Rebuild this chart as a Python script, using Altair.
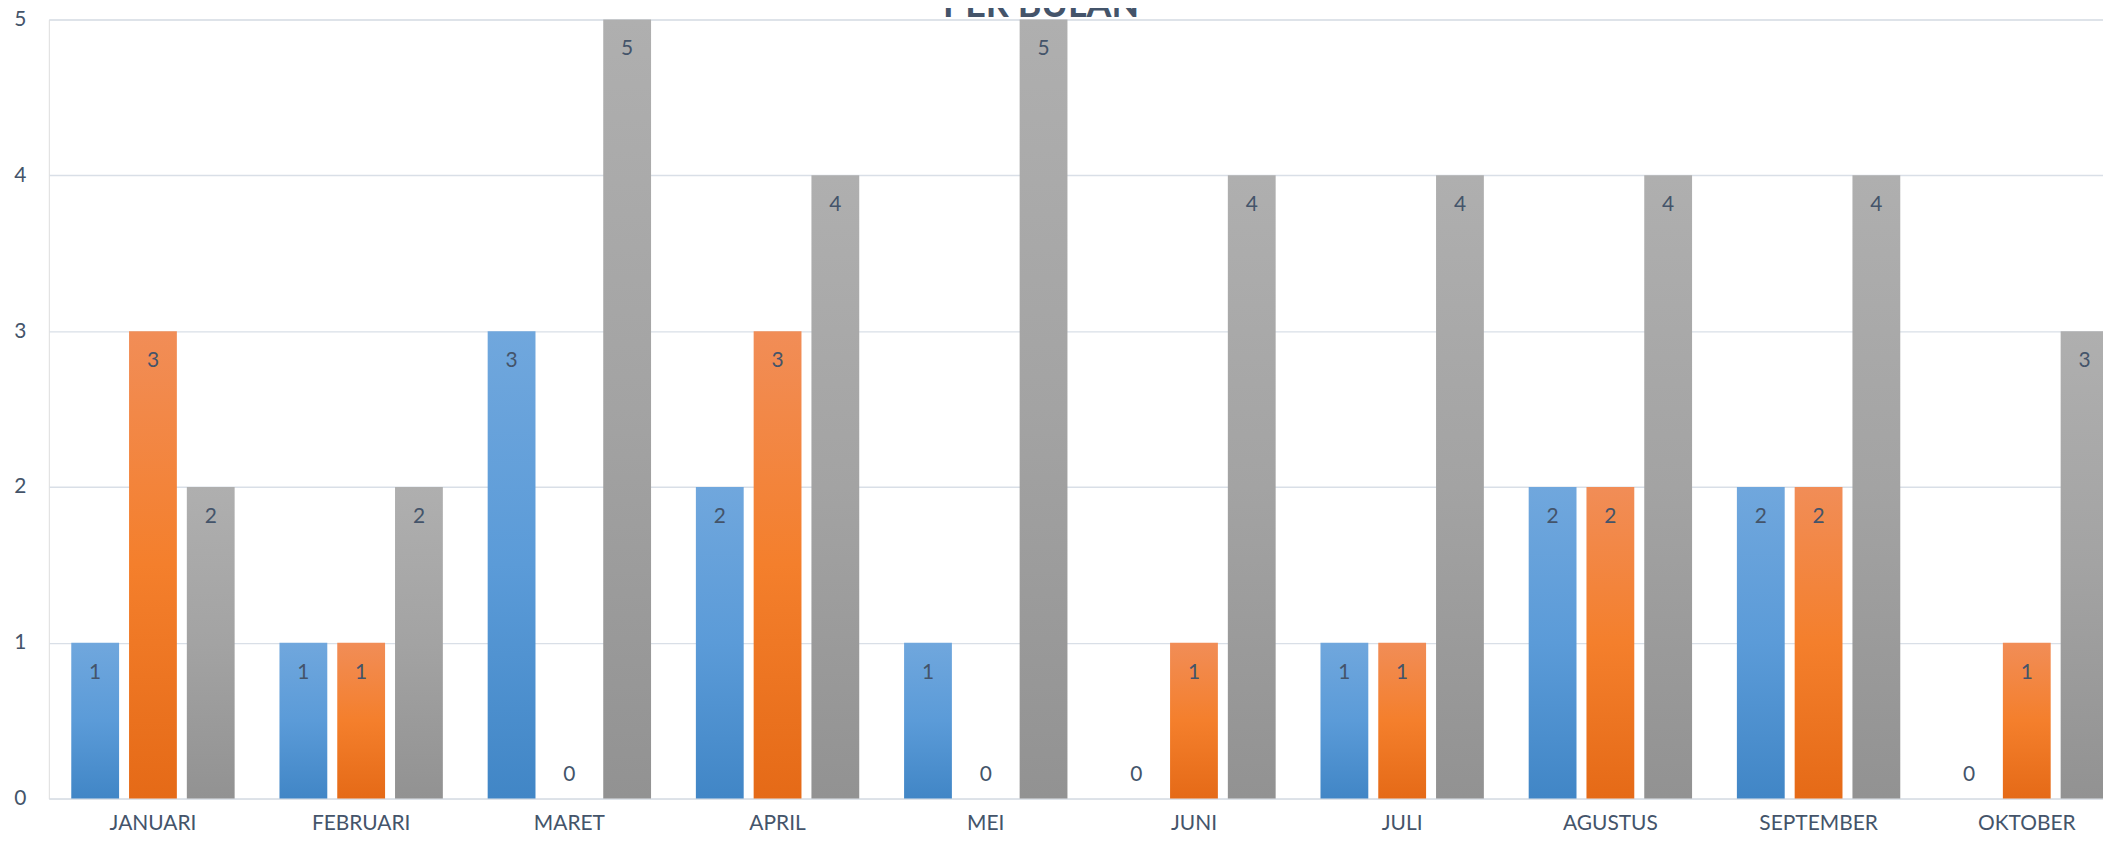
import altair as alt
import pandas as pd

months = ["JANUARI", "FEBRUARI", "MARET", "APRIL", "MEI", "JUNI", "JULI",
          "AGUSTUS", "SEPTEMBER", "OKTOBER"]
series_names = ["Seri 1", "Seri 2", "Seri 3"]
seri1 = [1, 1, 3, 2, 1, 0, 1, 2, 2, 0]
seri2 = [3, 1, 0, 3, 0, 1, 1, 2, 2, 1]
seri3 = [2, 2, 5, 4, 5, 4, 4, 4, 4, 3]
y_ticks = [0, 1, 2, 3, 4, 5]
title_text = ["PER BULAN"]

rows = []
for name, vals in zip(series_names, [seri1, seri2, seri3]):
    for m, v in zip(months, vals):
        rows.append({"bulan": m, "seri": name, "nilai": v})
df = pd.DataFrame(rows)

TEXT = "#44546A"
FONT = "Lato"

def grad(top, mid, bottom):
    return alt.Gradient(
        gradient="linear", x1=0, x2=0, y1=0, y2=1,
        stops=[alt.GradientStop(offset=0, color=top),
               alt.GradientStop(offset=0.5, color=mid),
               alt.GradientStop(offset=1, color=bottom)])

gradients = {
    "Seri 1": grad("#70A7DD", "#5B9BD8", "#4186C6"),
    "Seri 2": grad("#F18D57", "#F47F2C", "#E56A17"),
    "Seri 3": grad("#AFAFAF", "#A3A3A3", "#929292"),
}

x_enc = alt.X("bulan:N", sort=months,
              scale=alt.Scale(domain=months, range=[0, 2090],
                              paddingInner=0.2153, paddingOuter=0.1077),
              axis=alt.Axis(title=None, labelAngle=0, ticks=False, tickSize=0,
                            domain=False, labelPadding=31,
                            labelBaseline="alphabetic", labelFont=FONT,
                            labelFontSize=21, labelColor=TEXT, grid=False))
xo_enc = alt.XOffset("seri:N", sort=series_names,
                     scale=alt.Scale(domain=series_names, paddingInner=0.1724,
                                     paddingOuter=0))
y_enc = alt.Y("nilai:Q",
              scale=alt.Scale(domain=[0, 5], nice=False, zero=True),
              axis=alt.Axis(title=None, values=y_ticks, ticks=False, tickSize=0,
                            domain=False, labelPadding=23, labelFont=FONT,
                            labelFontSize=21, labelColor=TEXT,
                            gridColor="#D9DFE7", gridWidth=1.4, format="d"))

base = alt.Chart(df)
layers = []
for name in series_names:
    layers.append(
        base.transform_filter(alt.datum.seri == name)
        .mark_bar(color=gradients[name])
        .encode(x=x_enc, xOffset=xo_enc, y=y_enc)
    )

labels_pos = base.transform_filter(alt.datum.nilai > 0).mark_text(
    dy=36, baseline="alphabetic", font=FONT, fontSize=21, color=TEXT
).encode(x=x_enc, xOffset=xo_enc, y=y_enc, text=alt.Text("nilai:Q", format="d"))

labels_zero = base.transform_filter(alt.datum.nilai == 0).mark_text(
    dy=-18, baseline="alphabetic", font=FONT, fontSize=21, color=TEXT
).encode(x=x_enc, xOffset=xo_enc, y=y_enc, text=alt.Text("nilai:Q", format="d"))

title_layer = alt.Chart(pd.DataFrame({"judul": title_text})).mark_text(
    font=FONT, fontSize=36, fontWeight="bold", color=TEXT,
    align="center", baseline="alphabetic"
).encode(text="judul:N", x=alt.value(996), y=alt.value(-3))

chart = alt.layer(*layers, labels_pos, labels_zero, title_layer).properties(
    width=2062, height=782,
    autosize=alt.AutoSizeParams(type="none"),
    padding={"left": 41, "top": 10, "right": 0, "bottom": 38},
).configure_view(stroke=None).configure(background="white")

chart.save("out.html", embed_options={"renderer": "svg", "actions": False})
